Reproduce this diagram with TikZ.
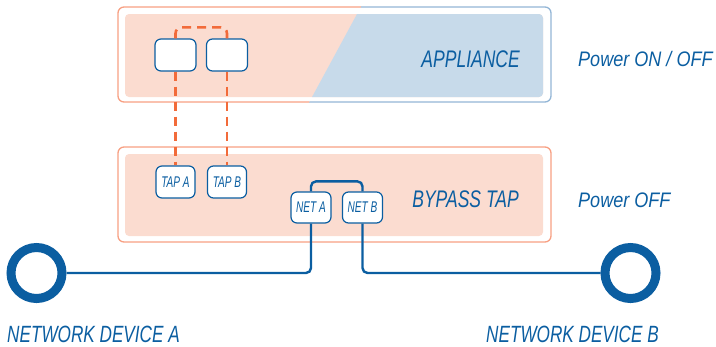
\documentclass[tikz,border=0pt]{standalone}
\usepackage{fontspec}
\usepackage{tikz}
\newfontfamily\condfont[FakeStretch=0.73]{Liberation Sans}
\newfontfamily\semifont[FakeStretch=0.86]{Liberation Sans}
\newfontfamily\portfont[FakeStretch=0.65]{Liberation Sans}

\definecolor{peach}{HTML}{FBDCD0}
\definecolor{peachline}{HTML}{F7A083}
\definecolor{skyfill}{HTML}{C7DAEA}
\definecolor{skyline}{HTML}{93B6D6}
\definecolor{deepblue}{HTML}{0B5EA1}
\definecolor{dashorange}{HTML}{F26B3A}

\tikzset{
  port/.style={draw=deepblue, fill=white, line width=1.2pt, rounded corners=6pt,
    inner sep=0pt, minimum width=40pt, minimum height=31pt, text=deepblue,
    font=\portfont\itshape\fontsize{15.5}{16}\selectfont},
  device/.style={circle, draw=deepblue, line width=9pt, minimum size=51pt, inner sep=0pt},
  netline/.style={draw=deepblue, line width=2.4pt, rounded corners=5pt},
  tapline/.style={draw=dashorange, line width=2.6pt, dash pattern=on 9pt off 6pt, rounded corners=6pt},
  boxlabel/.style={text=deepblue, inner sep=0pt, text depth=0pt, font=\condfont\itshape\fontsize{24}{26}\selectfont},
  powerlabel/.style={text=deepblue, inner sep=0pt, text depth=0pt, font=\semifont\itshape\fontsize{21}{23}\selectfont}
}

\begin{document}
\begin{tikzpicture}[x=1pt,y=-1pt]
\useasboundingbox (0,0) rectangle (716,346);

%% appliance box
\fill[peach, rounded corners=4pt] (125,14) rectangle (543,97);
\begin{scope}
\clip (364.6,0) -- (716,0) -- (716,110) -- (305,110) -- cycle;
\fill[skyfill, rounded corners=4pt] (125,14) rectangle (543,97);
\draw[skyline, line width=1.3pt, rounded corners=6pt] (118,7) rectangle (551,102);
\end{scope}
\begin{scope}
\clip (0,0) -- (364.6,0) -- (305,110) -- (0,110) -- cycle;
\draw[peachline, line width=1.3pt, rounded corners=6pt] (118,7) rectangle (551,102);
\end{scope}

%% bypass tap box
\draw[peachline, line width=1.3pt, rounded corners=6pt] (118,147) rectangle (551,242);
\fill[peach, rounded corners=4pt] (125,154) rectangle (543,236);

%% ports
\node[port, minimum width=41pt, minimum height=32pt] (apA) at (175.5,55) {};
\node[port, minimum width=41pt, minimum height=32pt] (apB) at (227,55) {};
\node[port, minimum width=39pt, minimum height=32pt] (tapA) at (175.5,182) {TAP A};
\node[port, minimum width=39pt, minimum height=32pt] (tapB) at (227,182) {TAP B};
\node[port] (netA) at (311,207.5) {NET A};
\node[port] (netB) at (362.5,207.5) {NET B};

%% network devices
\node[device] (devA) at (36.5,273) {};
\node[device] (devB) at (630.5,273) {};

%% labels
\node[boxlabel, anchor=base east] (lblApp) at (520,67) {APPLIANCE};
\node[boxlabel, anchor=base east] (lblTap) at (519,207) {BYPASS TAP};
\node[powerlabel, anchor=base west] (pwrApp) at (578,66) {Power ON / OFF};
\node[powerlabel, anchor=base west] (pwrTap) at (578,207) {Power OFF};
\node[boxlabel, anchor=base west, font=\condfont\itshape\fontsize{23.5}{25}\selectfont] (lblDevA) at (7,342.5) {NETWORK DEVICE A};
\node[boxlabel, anchor=base west, font=\condfont\itshape\fontsize{23.5}{25}\selectfont] (lblDevB) at (486,342.5) {NETWORK DEVICE B};

%% tap links
\draw[tapline] (apA.south) -- (tapA.north);
\draw[tapline] (apB.south) -- (tapB.north);
\draw[tapline] (apA.north) -- ++(0,-11) -| (apB.north);

%% network links
\draw[netline] (netA.north) -- ++(0,-10) -| (netB.north);
\draw[netline] (netA.south) |- (devA);
\draw[netline] (netB.south) |- (devB);
\end{tikzpicture}
\end{document}
